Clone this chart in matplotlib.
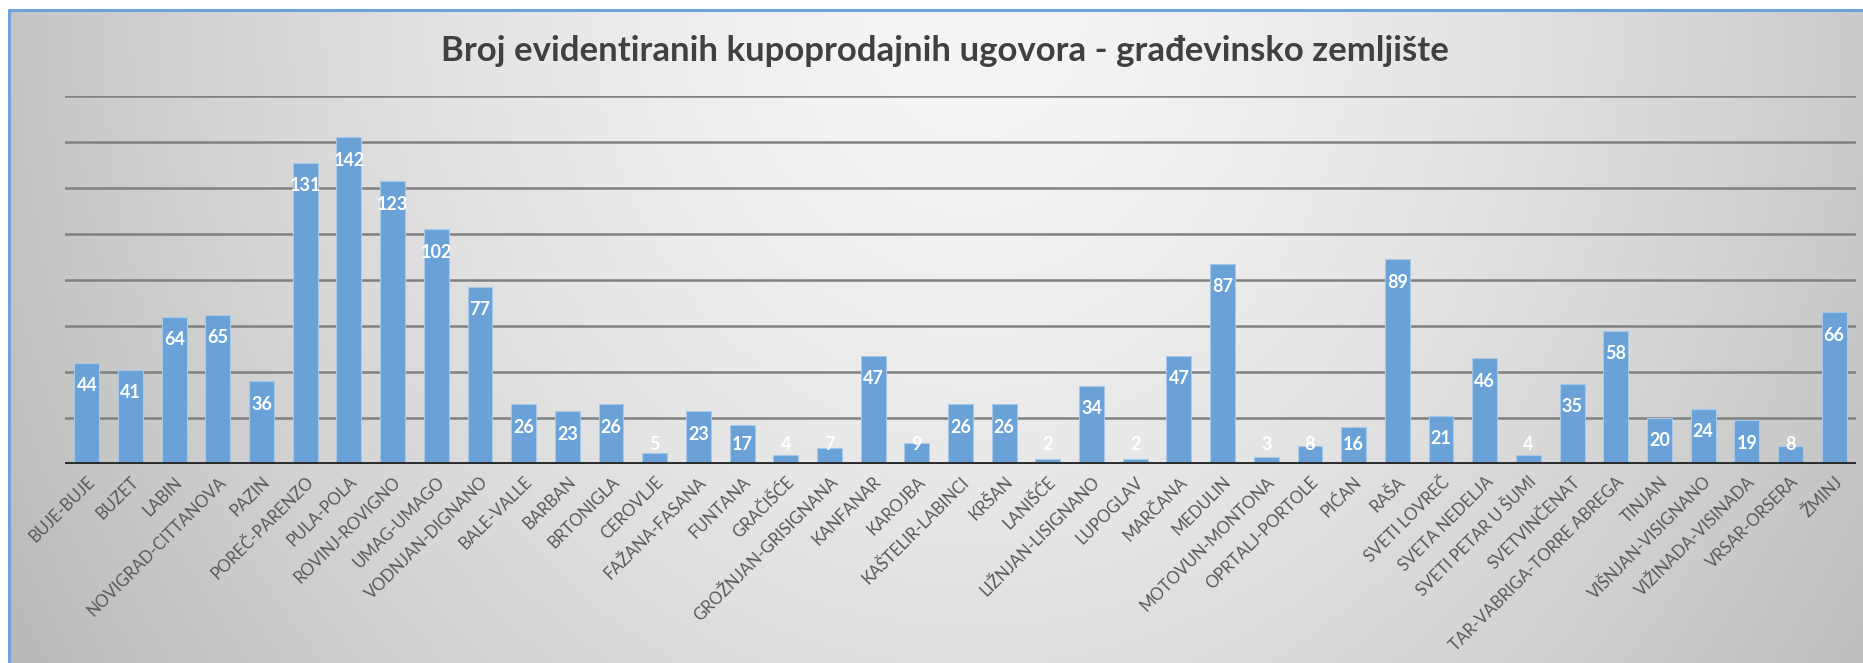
import numpy as np
import matplotlib
matplotlib.use('Agg')
import matplotlib.pyplot as plt
from matplotlib.lines import Line2D

plt.rcParams['font.family'] = ['Lato', 'DejaVu Sans']

TITLE = 'Broj evidentiranih kupoprodajnih ugovora - građevinsko zemljište'

opcine = ['BUJE-BUJE', 'BUZET', 'LABIN', 'NOVIGRAD-CITTANOVA', 'PAZIN', 'POREČ-PARENZO',
          'PULA-POLA', 'ROVINJ-ROVIGNO', 'UMAG-UMAGO', 'VODNJAN-DIGNANO', 'BALE-VALLE',
          'BARBAN', 'BRTONIGLA', 'CEROVLJE', 'FAŽANA-FASANA', 'FUNTANA', 'GRAČIŠĆE',
          'GROŽNJAN-GRISIGNANA', 'KANFANAR', 'KAROJBA', 'KAŠTELIR-LABINCI', 'KRŠAN',
          'LANIŠĆE', 'LIŽNJAN-LISIGNANO', 'LUPOGLAV', 'MARČANA', 'MEDULIN',
          'MOTOVUN-MONTONA', 'OPRTALJ-PORTOLE', 'PIĆAN', 'RAŠA', 'SVETI LOVREČ',
          'SVETA NEDELJA', 'SVETI PETAR U ŠUMI', 'SVETVINČENAT', 'TAR-VABRIGA-TORRE ABREGA',
          'TINJAN', 'VIŠNJAN-VISIGNANO', 'VIŽINADA-VISINADA', 'VRSAR-ORSERA', 'ŽMINJ']
ugovori = [44, 41, 64, 65, 36, 131, 142, 123, 102, 77, 26, 23, 26, 5, 23, 17, 4, 7, 47, 9,
           26, 26, 2, 34, 2, 47, 87, 3, 8, 16, 89, 21, 46, 4, 35, 58, 20, 24, 19, 8, 66]
grid_vals = [20, 40, 60, 80, 100, 120, 140, 160]

W, H = 1863, 663
fig = plt.figure(figsize=(W / 100, H / 100), dpi=100)
fig.patch.set_facecolor('white')

# panel background with soft gradient
px0, ptop = 9 / W, 1 - 10 / H
bg = fig.add_axes([px0, 0, 1 - px0, ptop])
gx = np.linspace(0, 1, 400)
gy = np.linspace(0, 1, 160)
GX, GY = np.meshgrid(gx, gy)
d = np.sqrt(((GX - 0.52) / 0.5) ** 2 + (GY / 1.6) ** 2)
val = np.clip(246 - 46 * d ** 1.5, 170, 250) / 255
img = np.dstack([val, val, val])
bg.imshow(img, aspect='auto', extent=[0, 1, 0, 1], origin='upper', interpolation='bilinear')
bg.set_xlim(0, 1); bg.set_ylim(0, 1); bg.axis('off')
# blue frame on left and top only
fig.add_artist(Line2D([px0, px0, 1.0], [0, ptop, ptop], color='#6fa3d8', lw=2.2))

ax = fig.add_axes([65 / W, 1 - 464 / H, (1856 - 65) / W, (464 - 96) / H])
ax.patch.set_alpha(0)
x = np.arange(len(ugovori))
for g in grid_vals:
    ax.axhline(g, color='#808080', lw=1.8, zorder=1)
ax.bar(x, ugovori, width=0.57, color='#6aa2d8', edgecolor='#a8c8ea', lw=0.8, zorder=2)
ax.axhline(0, color='#2a2a2a', lw=2.8, zorder=3)

for xi, v in zip(x, ugovori):
    ax.text(xi, max(v - 10, 8.5), str(v), ha='center', va='center', color='white',
            fontsize=13, fontweight='bold', zorder=4)

ax.set_xlim(-0.5, len(ugovori) - 0.5)
ax.set_ylim(0, 160)
ax.set_yticks([])
ax.set_xticks(x)
ax.set_xticklabels(opcine, rotation=45, ha='right', rotation_mode='anchor',
                   fontsize=12, color='#595959')
ax.tick_params(axis='x', length=0, pad=7)
for s in ax.spines.values():
    s.set_visible(False)

fig.text(945 / W, 1 - 51 / H, TITLE, ha='center', va='center', fontsize=25,
         fontweight='bold', color='#404040')

fig.savefig('out.png', dpi=100)
